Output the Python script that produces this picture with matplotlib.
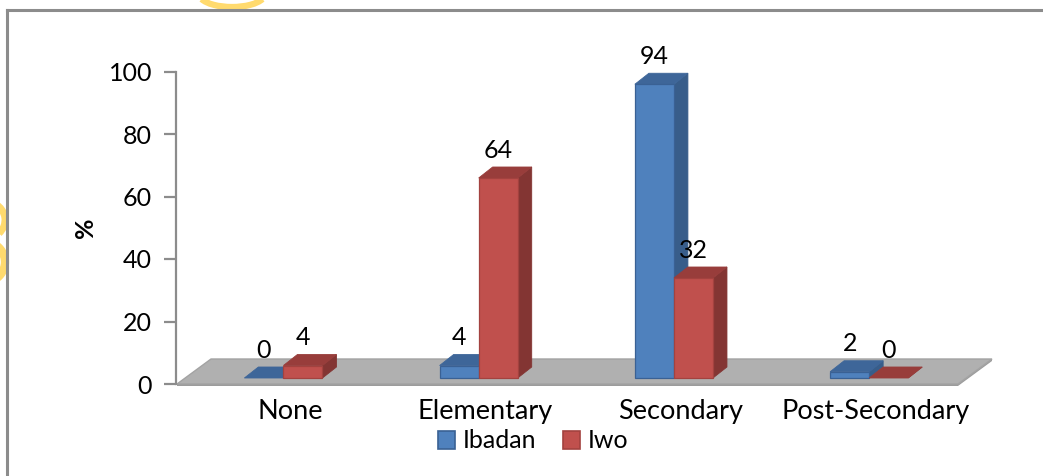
import matplotlib
matplotlib.use("Agg")
import matplotlib.pyplot as plt
from matplotlib.patches import Polygon, Patch, Arc
from matplotlib.lines import Line2D

# Data
categories = ["None", "Elementary", "Secondary", "Post-Secondary"]
series_names = ["Ibadan", "Iwo"]
ibadan = [0, 4, 94, 2]
iwo = [4, 64, 32, 0]
yticks = [0, 20, 40, 60, 80, 100]

# Styling
W, H, DPI = 1043, 476, 100
FONT = "Lato"
face = {"Ibadan": "#4F81BD", "Iwo": "#C0504D"}
side = {"Ibadan": "#385D8A", "Iwo": "#833533"}
top = {"Ibadan": "#3E6699", "Iwo": "#983D3B"}
edge = {"Ibadan": "#3A6194", "Iwo": "#A3423F"}

fig = plt.figure(figsize=(W / DPI, H / DPI), dpi=DPI)
fig.patch.set_facecolor("white")

# Faint watermark strokes
wm = "#FFDA6E"
fig.add_artist(Arc((232 / W, 1 + 6 / H), 66 / W, 26 / H, theta1=200, theta2=340,
                   transform=fig.transFigure, color=wm, lw=4.5))
fig.add_artist(Arc((-18 / W, 1 - 220 / H), 46 / W, 40 / H, theta1=-60, theta2=70,
                   transform=fig.transFigure, color=wm, lw=5))
fig.add_artist(Arc((-20 / W, 1 - 262 / H), 50 / W, 44 / H, theta1=-80, theta2=80,
                   transform=fig.transFigure, color=wm, lw=6))

# Outer chart border (top and left visible)
fig.add_artist(Line2D([7 / W, 7 / W], [0, 1 - 10 / H], transform=fig.transFigure,
                      color="#8C8C8C", lw=2.2))
fig.add_artist(Line2D([7 / W, 1.0], [1 - 10 / H, 1 - 10 / H], transform=fig.transFigure,
                      color="#8C8C8C", lw=2.2))

# Plot area: x spans the floor front edge, y spans 0..100
left_px, right_px = 177, 958
bottom_px, top_px = 384, 71.5
ax = fig.add_axes([left_px / W, 1 - bottom_px / H,
                   (right_px - left_px) / W, (bottom_px - top_px) / H])
ax.set_xlim(0, len(categories))
ax.set_ylim(0, 100)
ax.patch.set_alpha(0)
for s in ["top", "right", "bottom"]:
    ax.spines[s].set_visible(False)
ax.spines["left"].set_color("#8C8C8C")
ax.spines["left"].set_linewidth(1.6)
ax.spines["left"].set_position(("outward", 1))
ax.set_yticks(yticks)
ax.tick_params(axis="y", length=9, width=1.6, color="#8C8C8C", pad=8,
               labelsize=18)
for t in ax.get_yticklabels():
    t.set_fontfamily(FONT)

# Category labels
label_shift = 0.08
ax.set_xticks([i + 0.5 + label_shift for i in range(len(categories))])
ax.set_xticklabels(categories, fontsize=19.5, fontfamily=FONT)
ax.tick_params(axis="x", length=0, pad=11)

fig.text(85 / W, 1 - 228 / H, "%", rotation=90, ha="center", va="center",
         fontsize=18, fontweight="bold", fontfamily=FONT)

# Depth offsets (in data units)
px_x = (right_px - left_px) / len(categories)  # pixels per x unit
px_y = (bottom_px - top_px) / 100.0            # pixels per y unit
floor_dx, floor_dy = 34 / px_x, 25 / px_y
bar_dx, bar_dy = 14 / px_x, 11 / px_y
bar_base = 6 / px_y
bar_shift = 0.045
bar_w = 0.2
slab = 2 / px_y

# Floor
n = len(categories)
floor_top = [(0, 0), (n, 0), (n + floor_dx, floor_dy), (floor_dx, floor_dy)]
ax.add_patch(Polygon([(0, 0), (n, 0), (n, -slab), (0, -slab)], closed=True,
                     facecolor="#9C9C9C", edgecolor="none", clip_on=False, zorder=1))
ax.add_patch(Polygon([(n, 0), (n + floor_dx, floor_dy), (n + floor_dx, floor_dy - slab),
                      (n, -slab)], closed=True, facecolor="#9C9C9C", edgecolor="none",
                     clip_on=False, zorder=1))
ax.add_patch(Polygon(floor_top, closed=True, facecolor="#B0B0B0", edgecolor="#A3A3A3",
                     lw=1.0, clip_on=False, zorder=1))


def draw_bar(x0, v, name, z):
    x1 = x0 + bar_w
    y0 = bar_base
    y1 = bar_base + v
    # right side face
    ax.add_patch(Polygon([(x1, y0), (x1 + bar_dx, y0 + bar_dy), (x1 + bar_dx, y1 + bar_dy),
                          (x1, y1)], closed=True, facecolor=side[name],
                         edgecolor=side[name], lw=0.6, clip_on=False, zorder=z))
    # top face
    ax.add_patch(Polygon([(x0, y1), (x1, y1), (x1 + bar_dx, y1 + bar_dy),
                          (x0 + bar_dx, y1 + bar_dy)], closed=True, facecolor=top[name],
                         edgecolor=top[name], lw=0.6, clip_on=False, zorder=z))
    # front face
    if v > 0:
        ax.add_patch(Polygon([(x0, y0), (x1, y0), (x1, y1), (x0, y1)], closed=True,
                             facecolor=face[name], edgecolor=edge[name], lw=0.9,
                             clip_on=False, zorder=z))
    ax.text(x0 + bar_w / 2, y1 + 28 / px_y, f"{v}", ha="center", va="center",
            fontsize=18, fontfamily=FONT, color="black", zorder=10)


z = 2
for i in range(n):
    c = i + 0.5 + bar_shift
    draw_bar(c - bar_w, ibadan[i], "Ibadan", z)
    z += 1
    draw_bar(c, iwo[i], "Iwo", z)
    z += 1

# Legend
handles = [Patch(facecolor=face[s], edgecolor=edge[s], lw=1.2) for s in series_names]
leg = fig.legend(handles, series_names, loc="center", bbox_to_anchor=(533 / W, 1 - 441 / H),
                 ncol=2, frameon=False, prop={"family": FONT, "size": 18},
                 handlelength=0.7, handleheight=0.7, handletextpad=0.3, columnspacing=1.05,
                 borderpad=0)

fig.savefig("out.png", dpi=DPI, facecolor="white")
